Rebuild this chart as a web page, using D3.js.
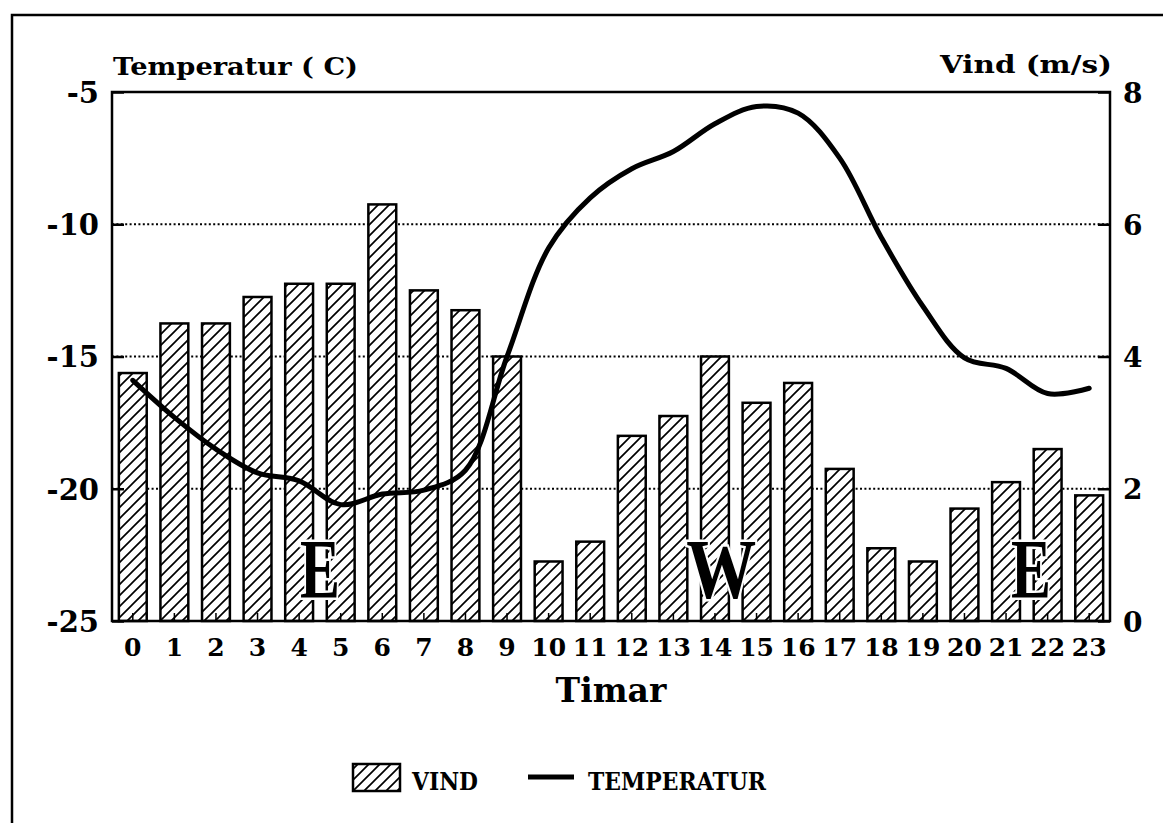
<!DOCTYPE html>
<html>
<head>
<meta charset="utf-8">
<script src="https://cdn.jsdelivr.net/npm/d3@7"></script>
<style>
  body { margin: 0; background: #fff; }
  svg { display: block; }
  text { font-family: "DejaVu Serif", serif; font-weight: bold; fill: #000; }
</style>
</head>
<body>
<div id="chart"></div>
<script>
// hours on the x axis
var hours = d3.range(0, 24);
// wind speed per hour (m/s), bars
var vind = [3.75, 4.5, 4.5, 4.9, 5.1, 5.1, 6.3, 5.0, 4.7, 4.0,
            0.9, 1.2, 2.8, 3.1, 4.0, 3.3, 3.6, 2.3, 1.1, 0.9,
            1.7, 2.1, 2.6, 1.9];
// temperature per hour (C), line
var temperatur = [-15.9, -17.3, -18.5, -19.4, -19.7, -20.6, -20.2, -20.05, -19.3, -15.0,
                  -10.9, -9.0, -7.9, -7.25, -6.2, -5.55, -5.8, -7.5, -10.5, -13.1,
                  -15.05, -15.45, -16.4, -16.2];
var tempTicks = [-5, -10, -15, -20, -25];
var vindTicks = [0, 2, 4, 6, 8];
var gridTemps = [-10, -15, -20];
// wind direction letters: [label, hour position]
var retning = [["E", 4.5], ["W", 14.15], ["E", 21.6]];

var W = 1163, H = 823;
var mLeft = 112, mRight = 1110, mTop = 92, mBottom = 621;

var svg = d3.select("#chart").append("svg")
  .attr("width", W)
  .attr("height", H);

// hatch pattern for the bars
var defs = svg.append("defs");
var pat = defs.append("pattern")
  .attr("id", "hatch")
  .attr("patternUnits", "userSpaceOnUse")
  .attr("width", 11)
  .attr("height", 11);
pat.append("rect").attr("width", 11).attr("height", 11).attr("fill", "#fff");
pat.append("path")
  .attr("d", "M0,11 L11,0 M-2,2 L2,-2 M9,13 L13,9")
  .attr("stroke", "#000")
  .attr("stroke-width", 1.7);

// outer frame (runs off the page on the right and bottom)
svg.append("rect")
  .attr("x", 12).attr("y", 15)
  .attr("width", W + 20).attr("height", H + 20)
  .attr("fill", "none")
  .attr("stroke", "#000")
  .attr("stroke-width", 2.5);

var x = d3.scaleBand()
  .domain(hours)
  .range([mLeft, mRight])
  .paddingInner(0.33)
  .paddingOuter(0.165);

var yT = d3.scaleLinear().domain([-25, -5]).range([mBottom, mTop]);
var yV = d3.scaleLinear().domain([0, 8]).range([mBottom, mTop]);

// dotted grid lines
svg.append("g")
  .selectAll("line")
  .data(gridTemps)
  .join("line")
  .attr("x1", mLeft)
  .attr("x2", mRight)
  .attr("y1", d => yT(d))
  .attr("y2", d => yT(d))
  .attr("stroke", "#000")
  .attr("stroke-width", 2)
  .attr("stroke-dasharray", "2,2.4");

// bars
svg.append("g")
  .selectAll("rect")
  .data(vind)
  .join("rect")
  .attr("x", (d, i) => x(hours[i]))
  .attr("y", d => yV(d))
  .attr("width", x.bandwidth())
  .attr("height", d => yV(0) - yV(d))
  .attr("fill", "url(#hatch)")
  .attr("stroke", "#000")
  .attr("stroke-width", 2.5);

// wind direction letters
svg.append("g")
  .selectAll("text")
  .data(retning)
  .join("text")
  .attr("x", d => x(0) + x.bandwidth() / 2 + d[1] * x.step())
  .attr("y", 598)
  .attr("text-anchor", "middle")
  .style("font-family", "'Liberation Serif', serif")
  .style("font-size", "84px")
  .attr("textLength", d => d[0] == "W" ? 70 : 40)
  .attr("lengthAdjust", "spacingAndGlyphs")
  .attr("stroke", "#fff")
  .attr("stroke-width", 5)
  .attr("paint-order", "stroke")
  .text(d => d[0]);

// temperature line
var line = d3.line()
  .x((d, i) => x(hours[i]) + x.bandwidth() / 2)
  .y(d => yT(d))
  .curve(d3.curveCatmullRom.alpha(0.5));

svg.append("path")
  .datum(temperatur)
  .attr("d", line)
  .attr("fill", "none")
  .attr("stroke", "#000")
  .attr("stroke-width", 5)
  .attr("stroke-linecap", "round");

// plot box
svg.append("rect")
  .attr("x", mLeft).attr("y", mTop)
  .attr("width", mRight - mLeft).attr("height", mBottom - mTop)
  .attr("fill", "none")
  .attr("stroke", "#000")
  .attr("stroke-width", 2.5);

// left axis (temperature)
var axL = svg.append("g")
  .attr("transform", `translate(${mLeft},0)`)
  .call(d3.axisLeft(yT).tickValues(tempTicks).tickSize(-12).tickPadding(13).tickFormat(d => String(d)));
axL.select(".domain").remove();
axL.selectAll("line").attr("stroke-width", 2.5);
axL.selectAll("text").style("font-size", "29px").attr("dy", "0.36em");

// right axis (wind)
var axR = svg.append("g")
  .attr("transform", `translate(${mRight},0)`)
  .call(d3.axisRight(yV).tickValues(vindTicks).tickSize(-12).tickPadding(13));
axR.select(".domain").remove();
axR.selectAll("line").attr("stroke-width", 2.5);
axR.selectAll("text").style("font-size", "28px").attr("dy", "0.36em");

// bottom axis (hours)
var axB = svg.append("g")
  .attr("transform", `translate(0,${mBottom})`)
  .call(d3.axisBottom(x).tickSize(-8).tickPadding(17));
axB.select(".domain").remove();
axB.selectAll("line").attr("stroke-width", 1.5);
axB.selectAll("text").style("font-size", "25px");

// axis titles
svg.append("text")
  .attr("x", 113).attr("y", 75)
  .style("font-size", "25px")
  .attr("textLength", 245)
  .attr("lengthAdjust", "spacingAndGlyphs")
  .text("Temperatur ( C)");

svg.append("text")
  .attr("x", 940).attr("y", 73)
  .style("font-size", "25px")
  .attr("textLength", 172)
  .attr("lengthAdjust", "spacingAndGlyphs")
  .text("Vind (m/s)");

svg.append("text")
  .attr("x", 611).attr("y", 702)
  .attr("text-anchor", "middle")
  .style("font-size", "33px")
  .text("Timar");

// legend
var lg = svg.append("g");
lg.append("rect")
  .attr("x", 353).attr("y", 764)
  .attr("width", 47).attr("height", 27)
  .attr("fill", "url(#hatch)")
  .attr("stroke", "#000")
  .attr("stroke-width", 2.5);
lg.append("text")
  .attr("x", 412).attr("y", 790)
  .style("font-size", "25px")
  .attr("textLength", 66)
  .attr("lengthAdjust", "spacingAndGlyphs")
  .text("VIND");
lg.append("line")
  .attr("x1", 528).attr("x2", 574)
  .attr("y1", 777).attr("y2", 777)
  .attr("stroke", "#000")
  .attr("stroke-width", 5);
lg.append("text")
  .attr("x", 588).attr("y", 790)
  .style("font-size", "25px")
  .attr("textLength", 178)
  .attr("lengthAdjust", "spacingAndGlyphs")
  .text("TEMPERATUR");
</script>
</body>
</html>
